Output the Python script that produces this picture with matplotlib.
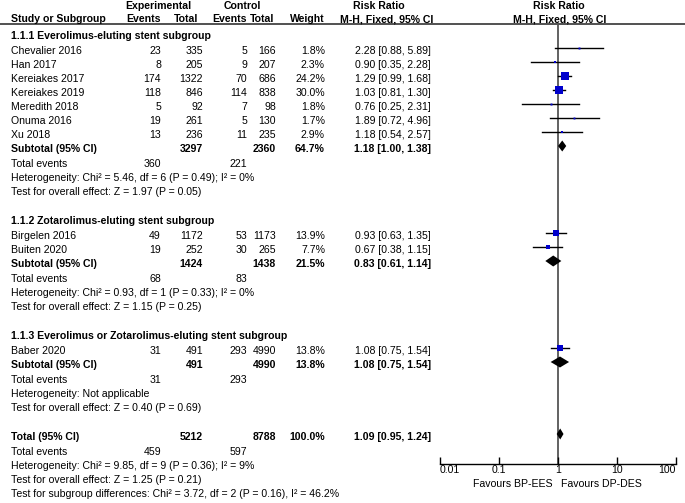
import numpy as np
import matplotlib
matplotlib.use('Agg')
import matplotlib.pyplot as plt

plt.rcParams['font.family'] = ['Liberation Sans', 'DejaVu Sans']
FS = 7.6

# study level data
studies = ['Chevalier 2016', 'Han 2017', 'Kereiakes 2017', 'Kereiakes 2019', 'Meredith 2018',
           'Onuma 2016', 'Xu 2018', 'Birgelen 2016', 'Buiten 2020', 'Baber 2020']
group = [0, 0, 0, 0, 0, 0, 0, 1, 1, 2]
exp_events = [23, 8, 174, 118, 5, 19, 13, 49, 19, 31]
exp_total = [335, 205, 1322, 846, 92, 261, 236, 1172, 252, 491]
ctl_events = [5, 9, 70, 114, 7, 5, 11, 53, 30, 293]
ctl_total = [166, 207, 686, 838, 98, 130, 235, 1173, 265, 4990]
weight = [1.8, 2.3, 24.2, 30.0, 1.8, 1.7, 2.9, 13.9, 7.7, 13.8]
rr = [2.28, 0.90, 1.29, 1.03, 0.76, 1.89, 1.18, 0.93, 0.67, 1.08]
rr_lo = [0.88, 0.35, 0.99, 0.81, 0.25, 0.72, 0.54, 0.63, 0.38, 0.75]
rr_hi = [5.89, 2.28, 1.68, 1.30, 2.31, 4.96, 2.57, 1.35, 1.15, 1.54]

# subgroup data
sub_names = ['1.1.1 Everolimus-eluting stent subgroup',
             '1.1.2 Zotarolimus-eluting stent subgroup',
             '1.1.3 Everolimus or Zotarolimus-eluting stent subgroup']
sub_exp_total = [3297, 1424, 491]
sub_ctl_total = [2360, 1438, 4990]
sub_weight = [64.7, 21.5, 13.8]
sub_exp_events = [360, 68, 31]
sub_ctl_events = [221, 83, 293]
sub_rr = [1.18, 0.83, 1.08]
sub_lo = [1.00, 0.61, 0.75]
sub_hi = [1.38, 1.14, 1.54]
sub_het = ['Heterogeneity: Chi² = 5.46, df = 6 (P = 0.49); I² = 0%',
           'Heterogeneity: Chi² = 0.93, df = 1 (P = 0.33); I² = 0%',
           'Heterogeneity: Not applicable']
sub_test = ['Test for overall effect: Z = 1.97 (P = 0.05)',
            'Test for overall effect: Z = 1.15 (P = 0.25)',
            'Test for overall effect: Z = 0.40 (P = 0.69)']

# overall
tot_exp_total, tot_ctl_total = 5212, 8788
tot_exp_events, tot_ctl_events = 459, 597
tot_rr, tot_lo, tot_hi = 1.09, 0.95, 1.24
tot_lines = ['Heterogeneity: Chi² = 9.85, df = 9 (P = 0.36); I² = 9%',
             'Test for overall effect: Z = 1.25 (P = 0.21)',
             'Test for subgroup differences: Chi² = 3.72, df = 2 (P = 0.16), I² = 46.2%']

tick_vals = [0.01, 0.1, 1, 10, 100]
tick_labels = ['0.01', '0.1', '1', '10', '100']

W, H = 685, 503
fig = plt.figure(figsize=(W / 100, H / 100), dpi=100)
ax = fig.add_axes([0, 0, 1, 1])
ax.set_xlim(0, W)
ax.set_ylim(H, 0)
ax.axis('off')

AX_Y = 464      # forest x-axis line
TOP_Y = 25
fx0, fx1 = 440, 676
axf = fig.add_axes([fx0 / W, 1 - AX_Y / H, (fx1 - fx0) / W, (AX_Y - TOP_Y) / H])
axf.set_xscale('log')
axf.set_xlim(0.01, 100)
axf.set_ylim(AX_Y, TOP_Y)
axf.patch.set_alpha(0)
for s in ['left', 'right', 'top']:
    axf.spines[s].set_visible(False)
axf.spines['bottom'].set_linewidth(1.0)
axf.set_yticks([])
axf.set_xticks(tick_vals)
axf.set_xticklabels(tick_labels, fontsize=FS)
axf.minorticks_off()
axf.tick_params(axis='x', direction='in', length=5, width=1, pad=0.5)
tl = axf.get_xticklabels()
tl[0].set_ha('left')
tl[-1].set_ha('right')
axf.axvline(1, color='#555555', lw=1.3, zorder=1)

# column right edges
c_ee, c_et, c_ce, c_ct, c_w, c_ci = 161, 203, 247, 276, 325, 431
MDY = -3   # marks sit slightly above the text centre


def txt(x, y, s, ha='left', bold=False):
    ax.text(x, y, s, ha=ha, va='center', fontsize=FS,
            fontweight='bold' if bold else 'normal')


def diamond(y, est, lo, hi, h=5.5):
    y = y + MDY
    axf.fill([lo, est, hi, est], [y, y - h, y, y + h], color='black', lw=0, zorder=3)


# header
txt(158, 6, 'Experimental', ha='center', bold=True)
txt(242, 6, 'Control', ha='center', bold=True)
txt(379, 6, 'Risk Ratio', ha='center', bold=True)
txt(559, 6, 'Risk Ratio', ha='center', bold=True)
txt(11, 19, 'Study or Subgroup', bold=True)
txt(161, 19, 'Events', ha='right', bold=True)
txt(198, 19, 'Total', ha='right', bold=True)
txt(247, 19, 'Events', ha='right', bold=True)
txt(274, 19, 'Total', ha='right', bold=True)
txt(325, 19, 'Weight', ha='right', bold=True)
txt(387, 19, 'M-H, Fixed, 95% CI', ha='center', bold=True)
txt(560, 19, 'M-H, Fixed, 95% CI', ha='center', bold=True)
ax.plot([0, W], [24, 24], color='#333333', lw=1.2)

y = 36
for g in range(3):
    txt(11, y, sub_names[g], bold=True)
    y += 15
    for i in [k for k in range(len(studies)) if group[k] == g]:
        txt(11, y, studies[i])
        txt(c_ee, y, str(exp_events[i]), ha='right')
        txt(c_et, y, str(exp_total[i]), ha='right')
        txt(c_ce, y, str(ctl_events[i]), ha='right')
        txt(c_ct, y, str(ctl_total[i]), ha='right')
        txt(c_w, y, f'{weight[i]:.1f}%', ha='right')
        txt(c_ci, y, f'{rr[i]:.2f} [{rr_lo[i]:.2f}, {rr_hi[i]:.2f}]', ha='right')
        axf.plot([rr_lo[i], rr_hi[i]], [y + MDY, y + MDY], color='black', lw=1.0, zorder=2)
        side = 8 * np.sqrt(weight[i] / 30.0) * 0.72
        axf.plot(rr[i], y + MDY, marker='s', ms=side, color='#0000cc', mew=0, zorder=3)
        y += 14
    txt(11, y, 'Subtotal (95% CI)', bold=True)
    txt(c_et, y, str(sub_exp_total[g]), ha='right', bold=True)
    txt(c_ct, y, str(sub_ctl_total[g]), ha='right', bold=True)
    txt(c_w, y, f'{sub_weight[g]:.1f}%', ha='right', bold=True)
    txt(c_ci, y, f'{sub_rr[g]:.2f} [{sub_lo[g]:.2f}, {sub_hi[g]:.2f}]', ha='right', bold=True)
    diamond(y, sub_rr[g], sub_lo[g], sub_hi[g])
    y += 15
    txt(11, y, 'Total events')
    txt(c_ee, y, str(sub_exp_events[g]), ha='right')
    txt(c_ce, y, str(sub_ctl_events[g]), ha='right')
    y += 14
    txt(11, y, sub_het[g])
    y += 14
    txt(11, y, sub_test[g])
    y += 29

txt(11, y, 'Total (95% CI)', bold=True)
txt(c_et, y, str(tot_exp_total), ha='right', bold=True)
txt(c_ct, y, str(tot_ctl_total), ha='right', bold=True)
txt(c_w, y, '100.0%', ha='right', bold=True)
txt(c_ci, y, f'{tot_rr:.2f} [{tot_lo:.2f}, {tot_hi:.2f}]', ha='right', bold=True)
diamond(y, tot_rr, tot_lo, tot_hi)
y += 15
txt(11, y, 'Total events')
txt(c_ee, y, str(tot_exp_events), ha='right')
txt(c_ce, y, str(tot_ctl_events), ha='right')
for line in tot_lines:
    y += 14
    txt(11, y, line)

txt(553, 484, 'Favours BP-EES', ha='right')
txt(561, 484, 'Favours DP-DES', ha='left')

fig.savefig('out.png', dpi=100)
